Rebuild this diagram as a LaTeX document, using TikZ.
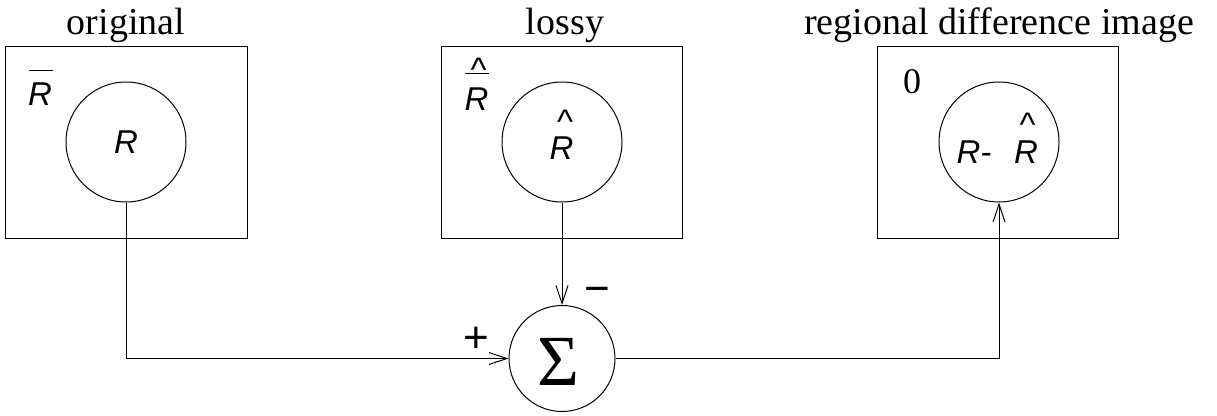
\documentclass[tikz,border=0pt]{standalone}
\usepackage{fontspec}
\setmainfont{Liberation Serif}
\setsansfont{Liberation Sans}
\usetikzlibrary{arrows.meta}

% caret accent set in a box that hugs the glyph
\newcommand{\caretglyph}{\raisebox{-0.33em}[0.39em][0pt]{\textasciicircum}}

\begin{document}
\begin{tikzpicture}[x=1pt, y=-1pt, line width=1pt,
  frame/.style={draw, line width=1.2pt, inner sep=0pt, anchor=north west},
  region/.style={draw, circle, minimum size=120pt, inner sep=0pt},
  adder/.style={draw, circle, minimum size=106pt, inner sep=0pt},
  title/.style={font=\fontsize{38}{40}\selectfont, anchor=base, inner sep=0pt},
  sym/.style={font=\sffamily\itshape\fontsize{33}{35}\selectfont, inner sep=0pt},
  hatmark/.style={font=\sffamily\fontsize{34}{36}\selectfont, inner sep=0pt, anchor=south},
  sign/.style={font=\sffamily\fontsize{44}{46}\selectfont, inner sep=0pt},
  flow/.style={-{Straight Barb[length=18pt,width=12pt]}}]
\useasboundingbox (0,0) rectangle (1217,415);

% titles
\node[title] (t1) at (126,34) {original};
\node[title] (t2) at (565,34) {lossy};
\node[title] (t3) at (999,34) {regional difference image};

% image frames
\node[frame, minimum width=242pt, minimum height=192pt] (box1) at (5,46) {};
\node[frame, minimum width=241pt, minimum height=192pt] (box2) at (441,46) {};
\node[frame, minimum width=241pt, minimum height=192pt] (box3) at (877,46) {};

% regions
\node[region] (c1) at (126,142) {};
\node[region] (c2) at (562,142) {};
\node[region] (c3) at (999,142) {};

% original: background label and region label
\node[sym] (rb1) at (40,94.5) {R};
\draw (29,70) -- (53,70);
\node[sym] (r1) at (126,142.5) {R};

% lossy: background label and region label
\node[sym] (rb2) at (476.5,99.5) {R};
\draw (465,73) -- (489,73);
\node[hatmark] (hb2) at (478.5,71) {\caretglyph};
\node[sym] (r2) at (561.5,148.5) {R};
\node[hatmark] (h2) at (565,123) {\caretglyph};

% difference image: background label and region label
\node[font=\fontsize{36}{38}\selectfont, inner sep=0pt] (zero) at (912,81.5) {0};
\node[sym, anchor=base west] (r3) at (956,163) {R-};
\node[sym] (r3h) at (1026,152) {R};
\node[hatmark] (h3) at (1027.5,126) {\caretglyph};

% summing junction
\node[adder] (sum) at (562,358.5) {};
\node[font=\fontsize{72}{74}\selectfont, inner sep=0pt] (sigma) at (558,361.5) {Σ};
\node[sign] (plus) at (476,339.5) {+};
\node[sign] (minus) at (597,295) {−};

% signal flow
\draw[flow] (c1.south) |- (sum.west);
\draw[flow] (c2.south) -- (sum.north);
\draw[flow] (sum.east) -| (c3.south);
\end{tikzpicture}
\end{document}
